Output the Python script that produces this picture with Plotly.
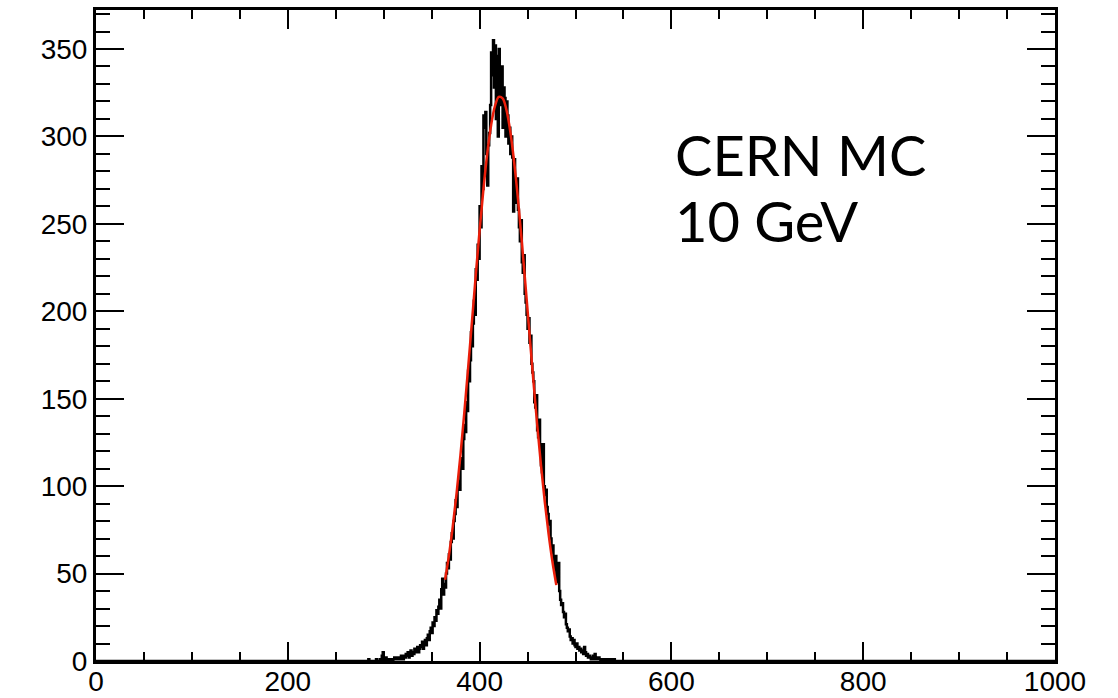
import numpy as np
import plotly.graph_objects as go

# Histogram: 1-unit bins over [0, 1000); only the populated bins are listed
bin_width = 1
first_bin_low = 284
counts = [
    1, 0, 0, 0, 0, 0, 0, 0, 1, 0, 0, 0, 1, 0, 3, 5,                 # 284 - 299
    1, 0, 2, 0, 1, 0, 0, 1, 1, 0, 1, 2, 1, 1, 2, 1, 2, 1, 3, 2,     # 300 - 319
    1, 3, 2, 4, 3, 5, 2, 4, 6, 3, 5, 4, 7, 5, 6, 8, 5, 7, 9, 8,     # 320 - 339
    11, 7, 10, 12, 9, 13, 15, 12, 17, 19,                           # 340 - 349
    16, 22, 20, 25, 23, 29, 27, 31, 35, 30,                         # 350 - 359
    41, 47, 38, 44, 42, 50, 56, 53, 61, 58,                         # 360 - 369
    68, 73, 70, 80, 84, 92, 88, 99, 103, 98,                        # 370 - 379
    112, 116, 110, 127, 135, 131, 148, 143, 166, 160,               # 380 - 389
    172, 188, 180, 193, 206, 198, 224, 218, 238, 230,               # 390 - 399
    260, 248, 283, 270, 312, 305, 314, 290, 272, 295,               # 400 - 409
    302, 318, 348, 335, 355, 328, 352, 310, 346, 300,               # 410 - 419
    350, 322, 318, 340, 305, 328, 322, 300, 320, 312,               # 420 - 429
    296, 305, 290, 300, 288, 257, 287, 270, 262, 276,               # 430 - 439
    258, 248, 240, 252, 228, 222, 232, 210, 205, 198,               # 440 - 449
    190, 196, 182, 186, 170, 165, 160, 148, 145, 152,               # 450 - 459
    132, 128, 138, 124, 112, 108, 124, 100, 95, 98,                 # 460 - 469
    88, 84, 78, 80, 70, 62, 66, 58, 52, 60,                         # 470 - 479
    45, 48, 56, 40, 35, 32, 33, 28, 25, 27,                         # 480 - 489
    21, 19, 17, 18, 14, 12, 13, 10, 12, 9,                          # 490 - 499
    8, 10, 7, 8, 6, 7, 5, 6, 4, 8,                                  # 500 - 509
    5, 3, 4, 2, 3, 2, 1, 2, 3, 1,                                   # 510 - 519
    4, 2, 1, 1, 2, 1, 0, 1, 1, 0,                                   # 520 - 529
    1, 0, 1, 1, 0, 0, 1, 0, 1, 0, 1,                                # 530 - 540
]

# Gaussian fit curve, sampled over the fit range
fit_x = [364, 368, 372, 376, 380, 384, 388, 392, 396, 400, 404, 408, 412, 416,
         420, 424, 428, 432, 436, 440, 444, 448, 452, 456, 460, 464, 468, 472,
         476, 480]
fit_y = [46.5, 60.3, 76.8, 95.9, 117.6, 141.6, 167.3, 193.9, 220.6, 246.3,
         269.9, 290.3, 306.4, 317.3, 322.6, 321.8, 315.1, 302.8, 285.5, 264.3,
         240.0, 214.0, 187.2, 160.7, 135.4, 112.0, 90.9, 72.4, 56.6, 43.4]

x_major = [0, 200, 400, 600, 800, 1000]
y_major = [0, 50, 100, 150, 200, 250, 300, 350]

# Full bin contents across the axis range
edges = np.arange(0, 1000 + bin_width, bin_width)
content = np.zeros(len(edges) - 1)
i0 = first_bin_low // bin_width
content[i0:i0 + len(counts)] = counts
step_y = np.append(content, content[-1])

fig = go.Figure()
fig.add_trace(go.Scatter(
    x=edges, y=step_y, mode="lines", line=dict(color="black", width=2.5, shape="hv"),
    hoverinfo="skip", showlegend=False,
))
fig.add_trace(go.Scatter(
    x=fit_x, y=fit_y, mode="lines",
    line=dict(color="rgb(235,30,10)", width=2.5, shape="spline"),
    hoverinfo="skip", showlegend=False,
))

tick_font = dict(family="Liberation Sans, Arial, sans-serif", size=28, color="black")

fig.update_layout(
    width=1118, height=698,
    margin=dict(l=96, r=63, t=10, b=37),
    paper_bgcolor="white", plot_bgcolor="white",
    xaxis=dict(
        range=[0, 1000], tickvals=x_major, ticktext=[str(v) for v in x_major],
        ticks="inside", ticklen=19, tickwidth=2, tickcolor="black",
        minor=dict(ticks="inside", dtick=50, ticklen=9, tickwidth=2, tickcolor="black"),
        showline=True, linewidth=3, linecolor="black", mirror="allticks",
        showgrid=False, zeroline=False, tickfont=tick_font,
        automargin=False, ticklabelstandoff=-7,
    ),
    yaxis=dict(
        range=[0, 372.3], tickvals=y_major, ticktext=[str(v) for v in y_major],
        ticks="inside", ticklen=28, tickwidth=2, tickcolor="black",
        minor=dict(ticks="inside", dtick=10, ticklen=14, tickwidth=2, tickcolor="black"),
        showline=True, linewidth=3, linecolor="black", mirror="allticks",
        showgrid=False, zeroline=False, tickfont=tick_font,
        automargin=False,
    ),
)

label_font = dict(family="Lato, Open Sans, sans-serif", size=56, color="black")
fig.add_annotation(x=0.6017, y=(661 - 154) / 651, xref="paper", yref="paper",
                   text="CERN MC", showarrow=False, xanchor="left", yanchor="middle",
                   font=label_font)
fig.add_annotation(x=0.6017, y=(661 - 220) / 651, xref="paper", yref="paper",
                   text="10 GeV", showarrow=False, xanchor="left", yanchor="middle",
                   font=label_font)

fig.write_html("out.html")
